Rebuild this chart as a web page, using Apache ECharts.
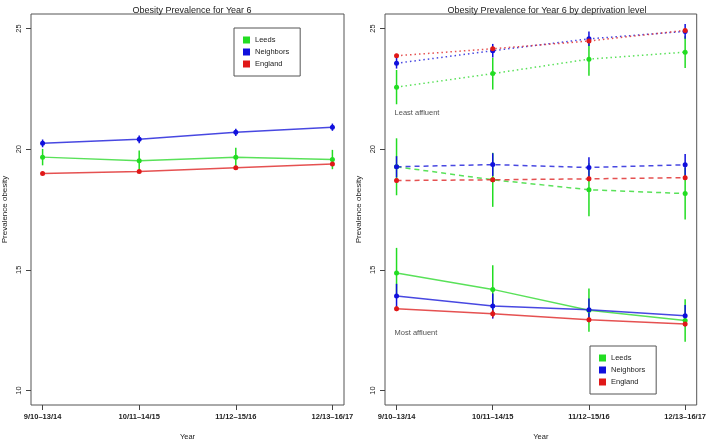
<!DOCTYPE html>
<html>
<head>
<meta charset="utf-8">
<script src="https://cdn.jsdelivr.net/npm/echarts@6/dist/echarts.min.js"></script>
<style>
  html, body { margin: 0; padding: 0; background: #fff; }
  #chart { width: 709px; height: 446px; }
</style>
</head>
<body>
<div id="chart"></div>
<script>
'use strict';

// x categories (positions 1..4)
var years = ['9/10\u201313/14', '10/11\u201314/15', '11/12\u201315/16', '12/13\u201316/17'];
var yTicks = [10, 15, 20, 25];
var groups = ['Leeds', 'Neighbors', 'England'];

// overall panel: values and half-widths of the error bars
var leedsAll = [19.67, 19.52, 19.66, 19.57];
var leedsAllErr = [0.34, 0.42, 0.40, 0.40];
var neighAll = [20.24, 20.41, 20.70, 20.91];
var neighAllErr = [0.16, 0.16, 0.15, 0.15];
var englandAll = [18.99, 19.07, 19.23, 19.39];
var englandAllErr = [0.05, 0.05, 0.05, 0.05];

// deprivation panel: least affluent (dotted)
var leedsLeast = [22.57, 23.13, 23.73, 24.02];
var leedsLeastErr = [0.71, 0.66, 0.69, 0.66];
var neighLeast = [23.56, 24.08, 24.57, 24.88];
var neighLeastErr = [0.22, 0.28, 0.30, 0.31];
var englandLeast = [23.87, 24.16, 24.48, 24.92];
var englandLeastErr = [0.08, 0.08, 0.08, 0.08];

// middle (dashed)
var leedsMid = [19.27, 18.73, 18.32, 18.16];
var leedsMidErr = [1.18, 1.12, 1.10, 1.07];
var neighMid = [19.27, 19.36, 19.24, 19.35];
var neighMidErr = [0.44, 0.47, 0.43, 0.45];
var englandMid = [18.70, 18.73, 18.77, 18.82];
var englandMidErr = [0.10, 0.10, 0.10, 0.10];

// most affluent (solid)
var leedsMost = [14.87, 14.19, 13.33, 12.90];
var leedsMostErr = [1.04, 1.00, 0.90, 0.88];
var neighMost = [13.92, 13.50, 13.35, 13.10];
var neighMostErr = [0.50, 0.52, 0.46, 0.44];
var englandMost = [13.39, 13.18, 12.93, 12.76];
var englandMostErr = [0.10, 0.15, 0.10, 0.10];

var fullCol = { Leeds: '#22dd22', Neighbors: '#1010dd', England: '#e01818' };
var lineCol = { Leeds: 'rgba(60,220,60,0.85)', Neighbors: 'rgba(40,40,220,0.85)', England: 'rgba(225,50,50,0.85)' };
var font = '"Liberation Sans", Arial, Helvetica, sans-serif';

function pts(vals, errs) {
    return vals.map(function (v, i) { return [i + 1, v, errs[i]]; });
}

var series = [];
function addGroup(name, vals, errs, gi, dash) {
    var d = pts(vals, errs);
    // error bars
    series.push({
        name: name, type: 'custom', xAxisIndex: gi, yAxisIndex: gi, z: 3,
        data: d,
        itemStyle: { color: fullCol[name] },
        renderItem: function (params, api) {
            var x = api.value(0), y = api.value(1), e = api.value(2);
            var p1 = api.coord([x, y - e]);
            var p2 = api.coord([x, y + e]);
            return {
                type: 'line',
                shape: { x1: p1[0], y1: p1[1], x2: p2[0], y2: p2[1] },
                style: { stroke: fullCol[name], lineWidth: 1.5 }
            };
        }
    });
    series.push({
        name: name, type: 'line', xAxisIndex: gi, yAxisIndex: gi, z: 4,
        data: d.map(function (p) { return [p[0], p[1]]; }),
        symbol: 'circle', symbolSize: 5,
        itemStyle: { color: fullCol[name] },
        lineStyle: { color: lineCol[name], width: 1.5, type: dash }
    });
}

addGroup('Leeds', leedsAll, leedsAllErr, 0, 'solid');
addGroup('Neighbors', neighAll, neighAllErr, 0, 'solid');
addGroup('England', englandAll, englandAllErr, 0, 'solid');

addGroup('Leeds', leedsLeast, leedsLeastErr, 1, [1.5, 3]);
addGroup('Neighbors', neighLeast, neighLeastErr, 1, [1.5, 3]);
addGroup('England', englandLeast, englandLeastErr, 1, [1.5, 3]);
addGroup('Leeds', leedsMid, leedsMidErr, 1, [5, 4]);
addGroup('Neighbors', neighMid, neighMidErr, 1, [5, 4]);
addGroup('England', englandMid, englandMidErr, 1, [5, 4]);
addGroup('Leeds', leedsMost, leedsMostErr, 1, 'solid');
addGroup('Neighbors', neighMost, neighMostErr, 1, 'solid');
addGroup('England', englandMost, englandMostErr, 1, 'solid');

// text labels in the right panel
series.push({
    type: 'scatter', xAxisIndex: 1, yAxisIndex: 1, symbolSize: 0, silent: true,
    data: [
        { value: [1, 21.5], label: { formatter: 'Least affluent' } },
        { value: [1, 12.4], label: { formatter: 'Most affluent' } }
    ],
    label: { show: true, position: 'right', distance: -2, color: '#222', fontSize: 7.5, fontFamily: font }
});

function xAxis(gi) {
    return {
        type: 'value', gridIndex: gi, min: 0.88, max: 4.12,
        name: 'Year', nameLocation: 'middle', nameGap: 28,
        nameTextStyle: { fontSize: 7.5, color: '#222', fontFamily: font },
        axisLine: { show: false },
        splitLine: { show: false },
        axisTick: { show: true, customValues: [1, 2, 3, 4], length: 5, lineStyle: { color: '#444' } },
        axisLabel: {
            customValues: [1, 2, 3, 4], margin: 8, fontSize: 7.5, fontWeight: 'bold', color: '#222', fontFamily: font,
            formatter: function (v) { return years[Math.round(v) - 1]; }
        }
    };
}
function yAxis(gi) {
    return {
        type: 'value', gridIndex: gi, min: 9.4, max: 25.6,
        name: 'Prevalence obesity', nameLocation: 'middle', nameGap: 22, nameRotate: 90,
        nameTextStyle: { fontSize: 8, color: '#222', fontFamily: font },
        axisLine: { show: false },
        splitLine: { show: false },
        axisTick: { show: true, customValues: yTicks, length: 5, lineStyle: { color: '#444' } },
        axisLabel: { customValues: yTicks, rotate: 90, margin: 8, fontSize: 7.5, color: '#222', fontFamily: font }
    };
}

function legend(left, top) {
    return {
        data: groups, orient: 'vertical', left: left, top: top,
        icon: 'rect', itemWidth: 7, itemHeight: 7, itemGap: 4,
        borderColor: '#555', borderWidth: 1, padding: [8, 11, 8, 9],
        textStyle: { fontSize: 7.5, color: '#222', fontFamily: font }
    };
}

var chart = echarts.init(document.getElementById('chart'));
chart.setOption({
    backgroundColor: '#fff',
    animation: false,
    title: [
        { text: 'Obesity Prevalence for Year 6', left: 187, top: 1, textAlign: 'center',
          textStyle: { fontSize: 9, fontWeight: 'normal', color: '#222', fontFamily: font } },
        { text: 'Obesity Prevalence for Year 6 by deprivation level', left: 542, top: 1, textAlign: 'center',
          textStyle: { fontSize: 9, fontWeight: 'normal', color: '#222', fontFamily: font } }
    ],
    grid: [
        { left: 30, right: 365, top: 14, bottom: 35, show: true, borderColor: '#555', borderWidth: 1 },
        { left: 385, right: 10, top: 14, bottom: 35, show: true, borderColor: '#555', borderWidth: 1 }
    ],
    legend: [legend(234, 28), legend(590, 346)],
    xAxis: [xAxis(0), xAxis(1)],
    yAxis: [yAxis(0), yAxis(1)],
    series: series
});
</script>
</body>
</html>
